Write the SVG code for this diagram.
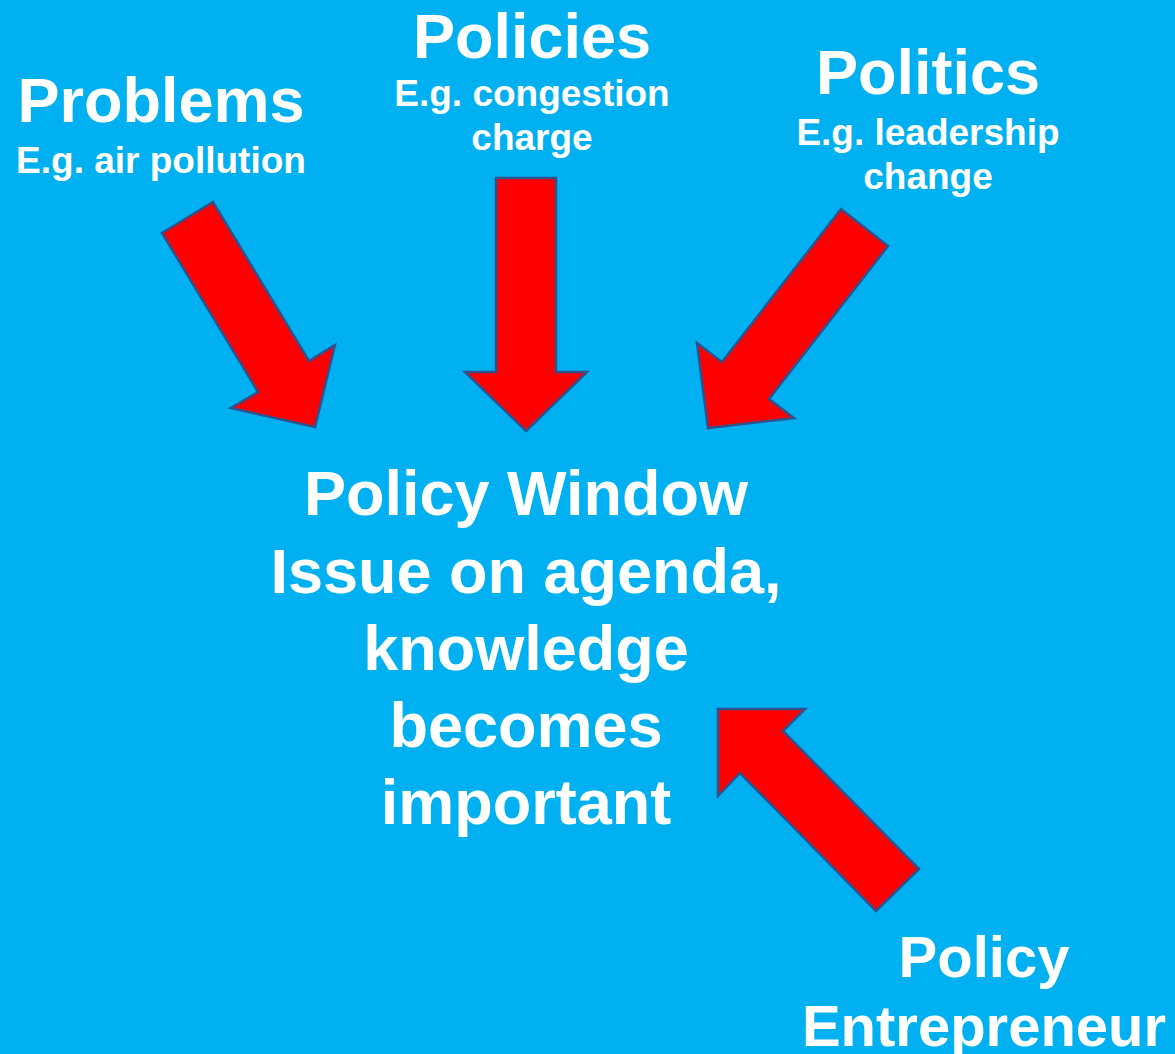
<svg xmlns="http://www.w3.org/2000/svg" width="1175" height="1054" viewBox="0 0 1175 1054">
  <style>
    .t { font-family: "Liberation Sans", Arial, sans-serif; font-weight: bold; fill: #FFFFFF; text-anchor: middle; }
    .h { font-size: 63px; }
    .s { font-size: 37px; }
    .m { font-size: 63px; }
    .e { font-size: 58px; }
    .arrow { fill: #FF0000; stroke: #2F528F; stroke-width: 2.5; stroke-linejoin: miter; }
  </style>
  <rect x="0" y="0" width="1175" height="1054" fill="#00B0F0"/>

  <g id="connectors">
    <polygon id="arrow-problems" class="arrow" points="162,233 213,202 309,361 335,345 315,427 231,408 258,392"/>
    <polygon id="arrow-policies" class="arrow" points="496,178 556,178 556,372 587,372 526,431 465,372 496,372"/>
    <polygon id="arrow-politics" class="arrow" points="841,209 888,246 769,399 794,418 708,428 697,343 722,362"/>
    <polygon id="arrow-entrepreneur" class="arrow" points="919,869 876,911 740,773 718,796 718,709 805,709 783,731"/>
  </g>

  <g id="problems">
    <text class="t h" x="161" y="122">Problems</text>
    <text class="t s" x="161" y="173">E.g. air pollution</text>
  </g>

  <g id="policies">
    <text class="t h" x="532" y="58">Policies</text>
    <text class="t s" x="532" y="106">E.g. congestion</text>
    <text class="t s" x="532" y="150">charge</text>
  </g>

  <g id="politics">
    <text class="t h" x="928" y="94">Politics</text>
    <text class="t s" x="928" y="145">E.g. leadership</text>
    <text class="t s" x="928" y="189">change</text>
  </g>

  <g id="policy-window">
    <text class="t m" x="526" y="515">Policy Window</text>
    <text class="t m" x="526" y="593">Issue on agenda,</text>
    <text class="t m" x="526" y="670">knowledge</text>
    <text class="t m" x="526" y="747">becomes</text>
    <text class="t m" x="526" y="824">important</text>
  </g>

  <g id="policy-entrepreneur">
    <text class="t e" x="984" y="977">Policy</text>
    <text class="t e" x="984" y="1046">Entrepreneur</text>
  </g>
</svg>
